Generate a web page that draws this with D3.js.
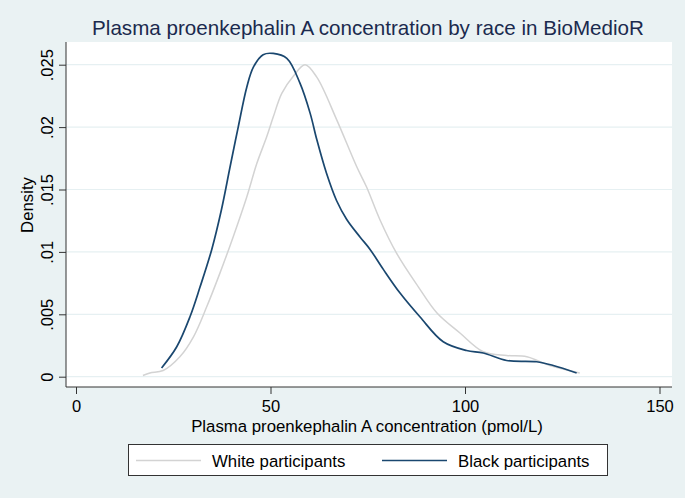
<!DOCTYPE html>
<html><head><meta charset="utf-8">
<script src="https://cdn.jsdelivr.net/npm/d3@7/dist/d3.min.js"></script>
<style>body{margin:0;background:#eaf2f3;} svg{display:block;font-family:"Liberation Sans",Arial,sans-serif;}</style>
</head><body>
<script>
const title = "Plasma proenkephalin A concentration by race in BioMedioR";
const xTitle = "Plasma proenkephalin A concentration (pmol/L)";
const yTitle = "Density";
const xTicks = [0, 50, 100, 150];
const yTicks = [0, 0.005, 0.01, 0.015, 0.02, 0.025];
const yTickLabels = ["0", ".005", ".01", ".015", ".02", ".025"];
const seriesNames = ["White participants", "Black participants"];

const whiteX = [17.2,19.0,22.4,26.7,30.2,33.6,37.0,40.4,43.9,46.5,49.0,50.7,52.9,55.9,58.9,61.9,67.0,72.2,74.7,78.1,82.4,88.0,92.8,98.7,104.7,110.7,115.9,121.8,129.5];
const whiteY = [0.0001,0.0003,0.0005,0.0016,0.0032,0.0056,0.0083,0.0112,0.0144,0.0171,0.0192,0.0208,0.0227,0.0241,0.0250,0.0240,0.0206,0.0168,0.0152,0.0126,0.0099,0.0072,0.0051,0.0035,0.0020,0.0017,0.0016,0.0009,0.0003];

const blackX = [22.0,25.9,29.3,31.9,34.9,37.4,39.6,41.7,43.9,45.6,48.1,50.7,54.2,57.6,60.2,61.9,64.4,67.0,69.6,73.0,75.6,79.0,83.3,88.4,94.4,100.4,104.7,110.7,118.4,122.7,128.7];
const blackY = [0.0007,0.0024,0.0048,0.0072,0.0102,0.0134,0.0168,0.0200,0.0232,0.0248,0.0258,0.0259,0.0255,0.0235,0.0211,0.0190,0.0163,0.0141,0.0126,0.0112,0.0102,0.0086,0.0067,0.0048,0.0028,0.0021,0.0019,0.0013,0.0012,0.0009,0.0003];

const W = 685, H = 498;
const plot = {l: 66, r: 672, t: 42, b: 387};
const x = d3.scaleLinear().domain([0, 150]).range([76, 659.5]);
const y = d3.scaleLinear().domain([0, 0.025]).range([376.7, 64.7]);
const FONT = "Liberation Sans, Arial, sans-serif";

const svg = d3.select("body").append("svg").attr("width", W).attr("height", H);
svg.append("rect").attr("width", W).attr("height", H).attr("fill", "#eaf2f3");
svg.append("rect").attr("x", plot.l).attr("y", plot.t).attr("width", plot.r - plot.l).attr("height", plot.b - plot.t).attr("fill", "#ffffff");

// gridlines
svg.append("g").selectAll("line").data(yTicks).join("line")
  .attr("x1", plot.l).attr("x2", plot.r).attr("y1", d => y(d)).attr("y2", d => y(d))
  .attr("stroke", "#e6f0f2").attr("stroke-width", 1.2);

// title
svg.append("text").attr("x", 368).attr("y", 35).attr("text-anchor", "middle")
  .attr("font-size", 20.6).attr("fill", "#1b2a4e").text(title);

// curves
const line = d3.line().x(d => x(d[0])).y(d => y(d[1])).curve(d3.curveCatmullRom.alpha(0.5));
const white = whiteX.map((v, i) => [v, whiteY[i]]);
const black = blackX.map((v, i) => [v, blackY[i]]);
svg.append("path").datum(white).attr("d", line).attr("fill", "none").attr("stroke", "#d3d3d3").attr("stroke-width", 1.5);
svg.append("path").datum(black).attr("d", line).attr("fill", "none").attr("stroke", "#1a476f").attr("stroke-width", 1.7);

// axes
const yAxis = d3.axisLeft(y).tickValues(yTicks).tickFormat((d, i) => yTickLabels[i]).tickSize(7);
const gy = svg.append("g").attr("transform", `translate(${plot.l},0)`).call(yAxis);
gy.select(".domain").attr("d", `M0,${plot.t}V${plot.b}`).attr("stroke", "#333");
gy.selectAll(".tick line").attr("stroke", "#333");
gy.selectAll(".tick text").attr("font-size", 16.5).attr("fill", "#000").attr("font-family", FONT)
  .attr("transform", "translate(-13,0) rotate(-90)").attr("x", 0).attr("y", 0).attr("dy", "0").attr("text-anchor", "middle");

const xAxis = d3.axisBottom(x).tickValues(xTicks).tickSize(7);
const gx = svg.append("g").attr("transform", `translate(0,${plot.b})`).call(xAxis);
gx.select(".domain").attr("d", `M${plot.l},0H${plot.r}`).attr("stroke", "#333");
gx.selectAll(".tick line").attr("stroke", "#333");
gx.selectAll(".tick text").attr("font-size", 16.5).attr("fill", "#000").attr("font-family", FONT)
  .attr("y", 25).attr("dy", "0");

svg.append("text").attr("x", 367).attr("y", 432).attr("text-anchor", "middle")
  .attr("font-size", 16.8).attr("fill", "#000").text(xTitle);
svg.append("text").attr("transform", "translate(33,205) rotate(-90)").attr("text-anchor", "middle")
  .attr("font-size", 16.8).attr("fill", "#000").text(yTitle);

// legend
const lg = svg.append("g");
lg.append("rect").attr("x", 128.5).attr("y", 444.5).attr("width", 479).attr("height", 31)
  .attr("fill", "#fff").attr("stroke", "#333").attr("stroke-width", 1);
const legendItems = [
  {name: seriesNames[0], color: "#d3d3d3", x1: 136, x2: 201, tx: 212},
  {name: seriesNames[1], color: "#1a476f", x1: 382, x2: 447, tx: 458}
];
legendItems.forEach(it => {
  lg.append("line").attr("x1", it.x1).attr("x2", it.x2).attr("y1", 460.5).attr("y2", 460.5).attr("stroke", it.color).attr("stroke-width", 1.5);
  lg.append("text").attr("x", it.tx).attr("y", 467).attr("font-size", 16.8).attr("fill", "#000").text(it.name);
});
</script>
</body></html>
